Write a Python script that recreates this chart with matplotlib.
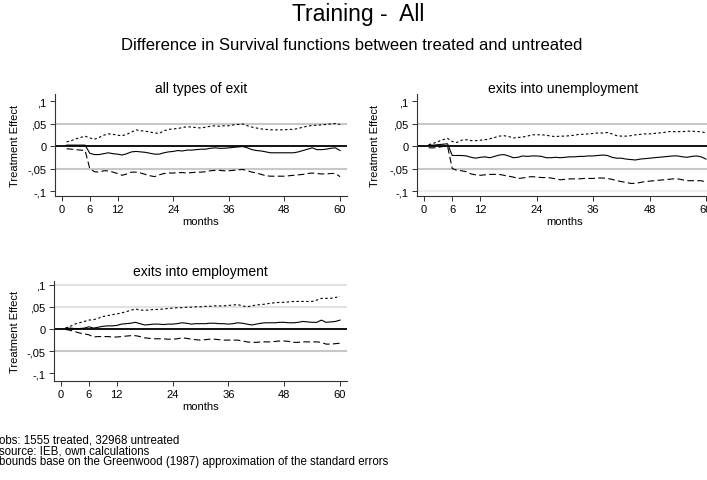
import matplotlib
matplotlib.use("Agg")
import matplotlib.pyplot as plt

plt.rcParams['font.family'] = ['Liberation Sans', 'DejaVu Sans']

months = list(range(1, 61))

# Panel 1: all types of exit
all_upper = [.009, .012, .016, .019, .022, .018, .015, .019, .024, .027, .026, .024, .023, .026, .031, .036, .034, .033, .031, .029,
             .028, .034, .037, .038, .039, .041, .043, .042, .041, .040, .042, .044, .045, .044, .045, .045, .047, .048, .049, .045,
             .042, .040, .038, .037, .036, .036, .036, .036, .037, .037, .039, .042, .044, .046, .046, .047, .048, .049, .050, .048]
all_mid = [.002, .002, .002, .002, .002, -.016, -.019, -.019, -.017, -.015, -.017, -.018, -.020, -.017, -.013, -.012, -.013, -.014, -.016, -.018,
           -.018, -.015, -.013, -.012, -.010, -.011, -.009, -.009, -.008, -.007, -.007, -.005, -.004, -.005, -.005, -.004, -.003, -.002, -.001, -.004,
           -.008, -.010, -.011, -.013, -.015, -.015, -.015, -.015, -.015, -.015, -.013, -.010, -.007, -.004, -.008, -.008, -.007, -.005, -.004, -.010]
all_lower = [-.006, -.007, -.008, -.009, -.010, -.050, -.057, -.058, -.055, -.055, -.058, -.061, -.065, -.062, -.058, -.058, -.060, -.063, -.066, -.068,
             -.064, -.061, -.060, -.060, -.059, -.059, -.060, -.059, -.058, -.058, -.057, -.055, -.054, -.054, -.055, -.055, -.054, -.053, -.052, -.055,
             -.058, -.060, -.063, -.066, -.067, -.067, -.067, -.067, -.066, -.065, -.064, -.063, -.061, -.060, -.061, -.062, -.062, -.061, -.061, -.068]

# Panel 2: exits into unemployment
unemp_upper = [.003, .006, .010, .014, .017, .010, .008, .013, .014, .012, .012, .013, .014, .016, .019, .022, .023, .021, .018, .019,
               .020, .022, .025, .025, .025, .024, .022, .021, .022, .022, .023, .024, .026, .026, .027, .028, .029, .029, .030, .027,
               .023, .022, .022, .023, .025, .026, .027, .027, .028, .029, .030, .032, .032, .032, .032, .033, .033, .032, .032, .029]
unemp_mid = [.002, .002, .003, .004, .005, -.021, -.021, -.021, -.022, -.025, -.027, -.025, -.024, -.026, -.023, -.020, -.019, -.022, -.026, -.025,
             -.022, -.023, -.022, -.022, -.023, -.026, -.026, -.025, -.026, -.025, -.024, -.024, -.023, -.023, -.022, -.022, -.021, -.020, -.021, -.025,
             -.027, -.027, -.029, -.030, -.031, -.029, -.028, -.027, -.026, -.025, -.024, -.023, -.022, -.022, -.024, -.025, -.023, -.022, -.024, -.029]
unemp_lower = [-.004, -.004, -.003, -.001, .000, -.050, -.054, -.055, -.057, -.062, -.064, -.065, -.064, -.063, -.063, -.063, -.065, -.067, -.069, -.072,
               -.071, -.069, -.068, -.069, -.070, -.070, -.071, -.073, -.075, -.074, -.073, -.073, -.073, -.072, -.072, -.072, -.071, -.071, -.072, -.074,
               -.077, -.079, -.081, -.083, -.083, -.081, -.079, -.078, -.077, -.076, -.075, -.074, -.073, -.073, -.075, -.077, -.077, -.077, -.077, -.080]

# Panel 3: exits into employment
emp_upper = [.002, .006, .011, .014, .017, .020, .021, .024, .028, .030, .032, .034, .036, .039, .042, .045, .043, .042, .043, .044,
             .044, .045, .046, .047, .048, .048, .049, .049, .050, .050, .051, .051, .052, .052, .052, .053, .054, .055, .052, .050,
             .052, .054, .055, .056, .058, .059, .060, .060, .061, .062, .062, .062, .062, .062, .065, .069, .069, .069, .071, .073]
emp_mid = [.002, .002, .001, .001, .002, .005, .002, .004, .006, .007, .007, .008, .011, .012, .013, .015, .012, .009, .010, .011,
           .011, .010, .011, .011, .012, .014, .013, .011, .012, .012, .012, .013, .013, .012, .012, .011, .012, .014, .013, .011,
           .009, .011, .013, .014, .014, .014, .015, .015, .014, .014, .015, .017, .016, .015, .015, .020, .015, .016, .017, .020]
emp_lower = [-.001, -.003, -.006, -.009, -.011, -.013, -.018, -.017, -.017, -.017, -.018, -.018, -.017, -.016, -.015, -.015, -.017, -.020, -.021, -.022,
             -.022, -.022, -.023, -.023, -.022, -.020, -.021, -.023, -.024, -.025, -.024, -.023, -.023, -.024, -.025, -.025, -.025, -.025, -.027, -.029,
             -.030, -.030, -.029, -.029, -.029, -.028, -.027, -.027, -.028, -.030, -.030, -.029, -.029, -.029, -.029, -.030, -.034, -.034, -.033, -.032]

panel_titles = ["all types of exit", "exits into unemployment", "exits into employment"]
xticks = [0, 6, 12, 24, 36, 48, 60]
yticks = [-0.1, -0.05, 0, 0.05, 0.1]
ytick_labels = ["-,1", "-,05", "0", ",05", ",1"]
footnotes = ["obs: 1555 treated, 32968 untreated",
             "source: IEB, own calculations",
             "bounds base on the Greenwood (1987) approximation of the standard errors"]

W, H = 707, 481
fig = plt.figure(figsize=(W / 100, H / 100), dpi=100)
fig.patch.set_facecolor('white')

def px(l, t, w, h):
    return [l / W, 1 - (t + h) / H, w / W, h / H]

panels = [
    (px(55, 95, 292, 102), (all_upper, all_mid, all_lower), panel_titles[0],
     [(0.05, '#c8c8c8'), (-0.05, '#c8c8c8')], (-0.111, 0.1156), 89, 15),
    (px(417, 95, 296, 102), (unemp_upper, unemp_mid, unemp_lower), panel_titles[1],
     [(0.05, '#c8c8c8'), (-0.05, '#c8c8c8'), (-0.1, '#eeeeee')], (-0.111, 0.1156), 89, 375),
    (px(54, 282, 293, 100), (emp_upper, emp_mid, emp_lower), panel_titles[2],
     [(0.1, '#e2e2e2'), (0.05, '#e2e2e2'), (-0.05, '#c8c8c8')], (-0.117, 0.108), 272, 15),
]

for rect, (up, mid, lo), title, grids, ylim, ty, ylx in panels:
    ax = fig.add_axes(rect)
    for gy, gc in grids:
        ax.axhline(gy, color=gc, lw=1.5, zorder=1)
    ax.axhline(0, color='black', lw=1.3, zorder=2)
    ax.plot(months, up, color='black', lw=0.8, ls=(0, (2.2, 2.2)), zorder=3)
    ax.plot(months, mid, color='black', lw=0.8, ls='-', zorder=3)
    ax.plot(months, lo, color='black', lw=0.8, ls=(0, (6, 3)), zorder=3)
    ax.set_xlim(-1.5, 61.5)
    ax.set_ylim(*ylim)
    ax.set_xticks(xticks)
    ax.set_xticklabels([str(x) for x in xticks])
    ax.set_yticks(yticks)
    ax.set_yticklabels(ytick_labels)
    for s in ['top', 'right']:
        ax.spines[s].set_visible(False)
    for s in ['left', 'bottom']:
        ax.spines[s].set_color('#333333')
        ax.spines[s].set_linewidth(0.8)
    ax.tick_params(axis='both', labelsize=8, length=3.5, width=0.7, color='#333333', pad=2.5)
    ax.set_xlabel("months", fontsize=8, labelpad=1.5)
    bb = rect
    fig.text(ylx / W, bb[1] + bb[3] / 2, "Treatment Effect", rotation=90,
             ha='center', va='center', fontsize=8)
    fig.text((bb[0] + 292 / W / 2), 1 - ty / H, title, ha='center', va='center', fontsize=10)

fig.text(358 / W, 1 - 15 / H, "Training -  All", ha='center', va='center', fontsize=16.5)
fig.text(352 / W, 1 - 46 / H, "Difference in Survival functions between treated and untreated",
         ha='center', va='center', fontsize=12)
for i, line in enumerate(footnotes):
    fig.text(-1 / W, 1 - (441 + 10.5 * i) / H, line, ha='left', va='center', fontsize=8.3)

fig.savefig("out.png", dpi=100)
